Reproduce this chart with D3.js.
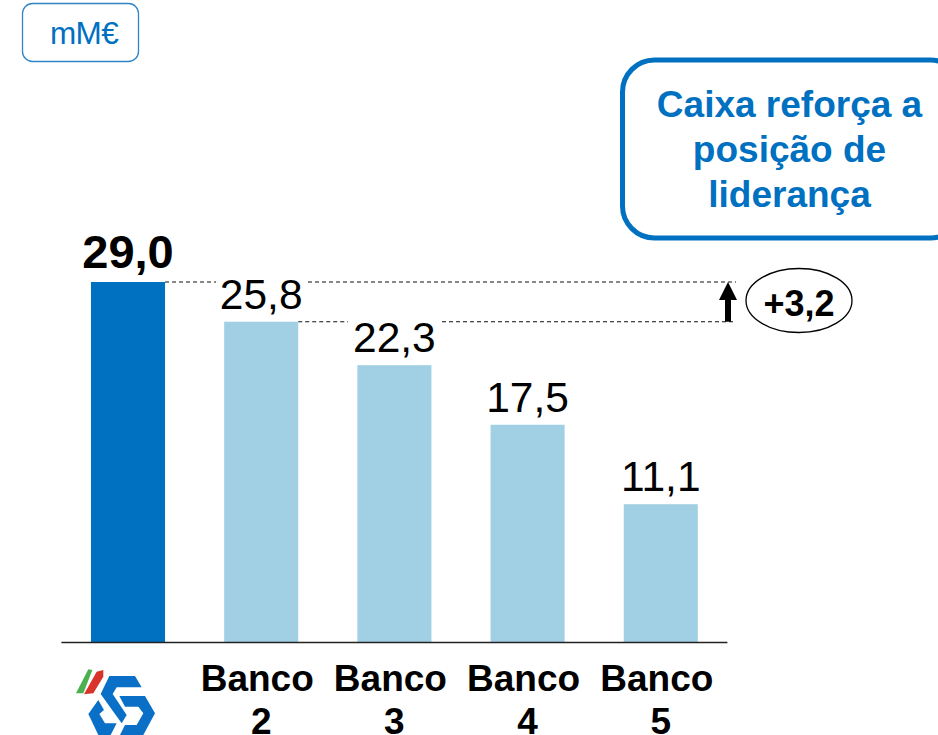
<!DOCTYPE html>
<html>
<head>
<meta charset="utf-8">
<script src="https://cdnjs.cloudflare.com/ajax/libs/d3/7.8.5/d3.min.js"></script>
<style>
html,body{margin:0;padding:0;background:#fff;overflow:hidden}
text{font-family:"Liberation Sans",Arial,sans-serif}
</style>
</head>
<body>
<svg id="canvas" width="938" height="735"></svg>
<script>
let categories = ["Caixa", "Banco 2", "Banco 3", "Banco 4", "Banco 5"]
let values = [29.0, 25.8, 22.3, 17.5, 11.1]
let valueLabels = ["29,0", "25,8", "22,3", "17,5", "11,1"]
let xLabels = [[], ["Banco", "2"], ["Banco", "3"], ["Banco", "4"], ["Banco", "5"]]
let calloutLines = ["Caixa reforça a", "posição de", "liderança"]
let gapLabel = "+3,2"
let unitLabel = "mM€"

let canvas = d3.select('#canvas')

let blue = "#0070c0"
let lightBlue = "#a1d0e4"

// band step is 133.2px, bars 74px wide
let x = d3.scaleBand().domain(categories).range([61.4, 727.4]).paddingInner(0.444).paddingOuter(0.222)
let y = d3.scaleLinear().domain([0, 29]).range([642, 282])

// unit box
canvas.append('rect')
  .attr('x', 22.5).attr('y', 3.5).attr('width', 116).attr('height', 58).attr('rx', 10)
  .attr('fill', 'none').attr('stroke', '#2f85c8').attr('stroke-width', 1.3)
canvas.append('text')
  .attr('x', 84).attr('y', 44).attr('text-anchor', 'middle')
  .attr('font-size', 31.5).attr('letter-spacing', -0.6).attr('fill', blue).text(unitLabel)

// callout box, runs off the right edge
canvas.append('rect')
  .attr('x', 622.5).attr('y', 60).attr('width', 340).attr('height', 178).attr('rx', 32)
  .attr('fill', '#fff').attr('stroke', blue).attr('stroke-width', 5)
canvas.selectAll('.callout')
  .data(calloutLines)
  .enter()
  .append('text')
  .attr('class', 'callout')
  .attr('x', 789.5)
  .attr('y', (d, i) => 117 + i * 45)
  .attr('text-anchor', 'middle')
  .attr('font-size', 37).attr('font-weight', 'bold').attr('fill', blue)
  .text(d => d)

// dashed reference lines, broken around the labels
let dashRows = [
  {value: values[0], x1: x(categories[0]) + x.bandwidth(), x2: 216},
  {value: values[0], x1: 308, x2: 736},
  {value: values[1], x1: x(categories[1]) + x.bandwidth(), x2: 348},
  {value: values[1], x1: 442, x2: 736}
]
canvas.selectAll('.dash')
  .data(dashRows)
  .enter()
  .append('line')
  .attr('class', 'dash')
  .attr('x1', d => d.x1).attr('x2', d => d.x2)
  .attr('y1', d => y(d.value)).attr('y2', d => y(d.value))
  .attr('stroke', '#111').attr('stroke-width', 1.1).attr('stroke-dasharray', '4 3')

// bars
canvas.append('g')
  .selectAll('rect')
  .data(values)
  .enter()
  .append('rect')
  .attr('x', (d, i) => x(categories[i]))
  .attr('y', d => y(d))
  .attr('width', x.bandwidth())
  .attr('height', d => y(0) - y(d))
  .attr('fill', (d, i) => i == 0 ? blue : lightBlue)

// baseline
canvas.append('line')
  .attr('x1', 61.4).attr('x2', 727.4).attr('y1', y(0) + 0.5).attr('y2', y(0) + 0.5)
  .attr('stroke', '#222').attr('stroke-width', 1.6)

// value labels
canvas.selectAll('.value')
  .data(valueLabels)
  .enter()
  .append('text')
  .attr('class', 'value')
  .attr('x', (d, i) => x(categories[i]) + x.bandwidth() / 2)
  .attr('y', (d, i) => y(values[i]) - (i == 0 ? 14 : 13))
  .attr('text-anchor', 'middle')
  .attr('font-size', (d, i) => i == 0 ? 47 : 42.5)
  .attr('font-weight', (d, i) => i == 0 ? 'bold' : 'normal')
  .attr('fill', '#000')
  .text(d => d)

// category labels, "Banco" sits a little left of the digit
xLabels.forEach((lines, i) => {
  canvas.selectAll('.cat' + i)
    .data(lines)
    .enter()
    .append('text')
    .attr('class', 'cat' + i)
    .attr('x', (d, j) => x(categories[i]) + x.bandwidth() / 2 - (j == 0 ? 4 : 0))
    .attr('y', (d, j) => 691 + j * 43)
    .attr('text-anchor', 'middle')
    .attr('font-size', 37).attr('font-weight', 'bold').attr('fill', '#000')
    .text(d => d)
})

// gap arrow
let arrowX = 728
canvas.append('line')
  .attr('x1', arrowX).attr('x2', arrowX).attr('y1', y(values[1])).attr('y2', y(values[0]) + 12)
  .attr('stroke', '#000').attr('stroke-width', 6)
canvas.append('path')
  .attr('d', d3.line()([[arrowX, y(values[0])], [arrowX + 9, y(values[0]) + 18], [arrowX - 9, y(values[0]) + 18]]))
  .attr('fill', '#000')

// gap ellipse
canvas.append('ellipse')
  .attr('cx', 799).attr('cy', 300.5).attr('rx', 53).attr('ry', 32)
  .attr('fill', '#fff').attr('stroke', '#000').attr('stroke-width', 1.3)
canvas.append('text')
  .attr('x', 799).attr('y', 316).attr('text-anchor', 'middle')
  .attr('font-size', 36).attr('font-weight', 'bold').attr('fill', '#000')
  .text(gapLabel)

// logo, traced at 3x from the crop
let logo = canvas.append('g').attr('transform', 'translate(60,660) scale(0.3333)')
let logoLine = d3.line()
logo.append('path').attr('d', logoLine([[48,100],[85,28],[97,30],[70,100]]) + 'Z').attr('fill', '#4caf50')
logo.append('path').attr('d', logoLine([[72,103],[110,35],[130,30],[130,50],[100,100]]) + 'Z').attr('fill', '#d9342b')
let logoInner = canvas.append('g').attr('transform', 'translate(80,670) scale(0.3333)')
let logoPieces = [
  [[88,18],[165,18],[185,52],[110,52],[98,72],[140,135],[125,160],[62,72]],
  [[118,78],[195,78],[225,130],[190,195],[120,195],[135,165],[170,165],[190,130],[175,110],[135,110]],
  [[55,90],[72,120],[58,132],[75,160],[110,160],[92,195],[55,195],[25,132]]
]
logoInner.selectAll('path')
  .data(logoPieces)
  .enter()
  .append('path')
  .attr('d', d => logoLine(d) + 'Z')
  .attr('fill', '#0a6fc6')
</script>
</body>
</html>
